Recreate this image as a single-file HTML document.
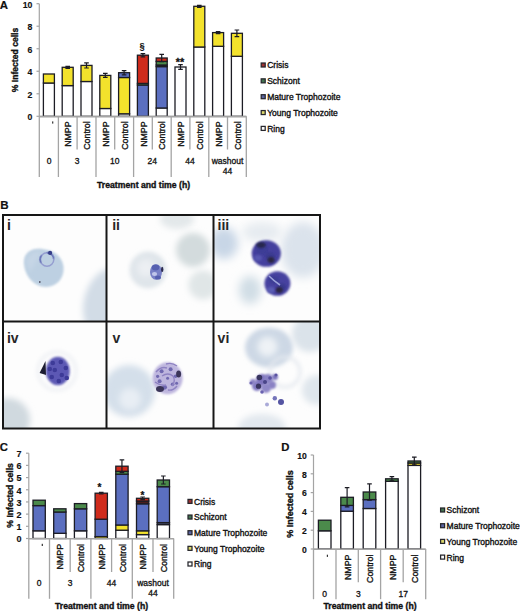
<!DOCTYPE html><html><head><meta charset="utf-8"><style>html,body{margin:0;padding:0;background:#fff;overflow:hidden;}svg{display:block}</style></head><body>
<svg width="520" height="611" viewBox="0 0 520 611" font-family='"Liberation Sans", sans-serif'>
<rect width="520" height="611" fill="#fff"/>
<text x="-0.3" y="8.6" text-anchor="start" font-size="11.4" font-weight="bold" fill="#111" stroke="#111" stroke-width="0.2">A</text>
<line x1="39.3" y1="3.7" x2="39.3" y2="116.3" stroke="#a4a4a4" stroke-width="1.2"/>
<line x1="39.3" y1="116.3" x2="246.3" y2="116.3" stroke="#a4a4a4" stroke-width="1.2"/>
<line x1="36.5" y1="3.7" x2="39.3" y2="3.7" stroke="#a4a4a4" stroke-width="1.2"/>
<text x="32.4" y="7.5146" text-anchor="end" font-size="8.7" font-weight="bold" fill="#111" stroke="#111" stroke-width="0.15">10</text>
<line x1="36.5" y1="26.22" x2="39.3" y2="26.22" stroke="#a4a4a4" stroke-width="1.2"/>
<text x="32.4" y="30.034599999999998" text-anchor="end" font-size="8.7" font-weight="bold" fill="#111" stroke="#111" stroke-width="0.15">8</text>
<line x1="36.5" y1="48.74" x2="39.3" y2="48.74" stroke="#a4a4a4" stroke-width="1.2"/>
<text x="32.4" y="52.55460000000001" text-anchor="end" font-size="8.7" font-weight="bold" fill="#111" stroke="#111" stroke-width="0.15">6</text>
<line x1="36.5" y1="71.25999999999999" x2="39.3" y2="71.25999999999999" stroke="#a4a4a4" stroke-width="1.2"/>
<text x="32.4" y="75.07459999999999" text-anchor="end" font-size="8.7" font-weight="bold" fill="#111" stroke="#111" stroke-width="0.15">4</text>
<line x1="36.5" y1="93.78" x2="39.3" y2="93.78" stroke="#a4a4a4" stroke-width="1.2"/>
<text x="32.4" y="97.5946" text-anchor="end" font-size="8.7" font-weight="bold" fill="#111" stroke="#111" stroke-width="0.15">2</text>
<line x1="36.5" y1="116.3" x2="39.3" y2="116.3" stroke="#a4a4a4" stroke-width="1.2"/>
<text x="32.4" y="120.1146" text-anchor="end" font-size="8.7" font-weight="bold" fill="#111" stroke="#111" stroke-width="0.15">0</text>
<text transform="translate(18.0,60.0) rotate(-90)" text-anchor="middle" font-size="8.6" font-weight="bold" fill="#111" stroke="#111" stroke-width="0.35">% Infected cells</text>
<rect x="43.4" y="83" width="11.0" height="33.3" fill="#ffffff" stroke="#1c1c24" stroke-width="1.3"/>
<rect x="43.4" y="74" width="11.0" height="9" fill="#f3e22c" stroke="#1c1c24" stroke-width="1.3"/>
<rect x="62.2" y="85.6" width="11.0" height="30.700000000000003" fill="#ffffff" stroke="#1c1c24" stroke-width="1.3"/>
<rect x="62.2" y="67.3" width="11.0" height="18.299999999999997" fill="#f3e22c" stroke="#1c1c24" stroke-width="1.3"/>
<path d="M67.7 66.3 V68.3 M65.4 66.3 H70.0 M65.4 68.3 H70.0" stroke="#1c1c24" stroke-width="1.2" fill="none"/>
<rect x="81.0" y="81.5" width="11.0" height="34.8" fill="#ffffff" stroke="#1c1c24" stroke-width="1.3"/>
<rect x="81.0" y="65.4" width="11.0" height="16.099999999999994" fill="#f3e22c" stroke="#1c1c24" stroke-width="1.3"/>
<path d="M86.5 62.8 V68.00000000000001 M84.2 62.8 H88.8 M84.2 68.00000000000001 H88.8" stroke="#1c1c24" stroke-width="1.2" fill="none"/>
<rect x="99.80000000000001" y="108.5" width="11.0" height="7.799999999999997" fill="#ffffff" stroke="#1c1c24" stroke-width="1.3"/>
<rect x="99.80000000000001" y="75.4" width="11.0" height="33.099999999999994" fill="#f3e22c" stroke="#1c1c24" stroke-width="1.3"/>
<path d="M105.30000000000001 73.4 V77.4 M103.00000000000001 73.4 H107.60000000000001 M103.00000000000001 77.4 H107.60000000000001" stroke="#1c1c24" stroke-width="1.2" fill="none"/>
<rect x="118.6" y="113.8" width="11.0" height="2.5" fill="#ffffff" stroke="#1c1c24" stroke-width="1.3"/>
<rect x="118.6" y="77.5" width="11.0" height="36.3" fill="#f3e22c" stroke="#1c1c24" stroke-width="1.3"/>
<rect x="118.6" y="72.7" width="11.0" height="4.799999999999997" fill="#5b6fc0" stroke="#1c1c24" stroke-width="1.3"/>
<path d="M124.1 70.6 V74.80000000000001 M121.8 70.6 H126.39999999999999 M121.8 74.80000000000001 H126.39999999999999" stroke="#1c1c24" stroke-width="1.2" fill="none"/>
<rect x="137.4" y="85" width="11.0" height="31.299999999999997" fill="#5b6fc0" stroke="#1c1c24" stroke-width="1.3"/>
<rect x="137.4" y="83.4" width="11.0" height="1.5999999999999943" fill="#4b8a4b" stroke="#1c1c24" stroke-width="1.3"/>
<rect x="137.4" y="55.2" width="11.0" height="28.200000000000003" fill="#cf2b1c" stroke="#1c1c24" stroke-width="1.3"/>
<path d="M142.9 53.6 V56.800000000000004 M140.6 53.6 H145.20000000000002 M140.6 56.800000000000004 H145.20000000000002" stroke="#1c1c24" stroke-width="1.2" fill="none"/>
<rect x="156.20000000000002" y="108" width="11.0" height="8.299999999999997" fill="#ffffff" stroke="#1c1c24" stroke-width="1.3"/>
<rect x="156.20000000000002" y="66.6" width="11.0" height="41.400000000000006" fill="#5b6fc0" stroke="#1c1c24" stroke-width="1.3"/>
<rect x="156.20000000000002" y="65.0" width="11.0" height="1.5999999999999943" fill="#2a2a2a" stroke="#1c1c24" stroke-width="1.3"/>
<rect x="156.20000000000002" y="61.4" width="11.0" height="3.6000000000000014" fill="#4b8a4b" stroke="#1c1c24" stroke-width="1.3"/>
<rect x="156.20000000000002" y="58" width="11.0" height="3.3999999999999986" fill="#cf2b1c" stroke="#1c1c24" stroke-width="1.3"/>
<path d="M161.70000000000002 54.4 V61.6 M159.4 54.4 H164.00000000000003 M159.4 61.6 H164.00000000000003" stroke="#1c1c24" stroke-width="1.2" fill="none"/>
<rect x="175.0" y="67" width="11.0" height="49.3" fill="#ffffff" stroke="#1c1c24" stroke-width="1.3"/>
<path d="M180.5 64.6 V69.4 M178.2 64.6 H182.8 M178.2 69.4 H182.8" stroke="#1c1c24" stroke-width="1.2" fill="none"/>
<rect x="193.8" y="47" width="11.0" height="69.3" fill="#ffffff" stroke="#1c1c24" stroke-width="1.3"/>
<rect x="193.8" y="6.3" width="11.0" height="40.7" fill="#f3e22c" stroke="#1c1c24" stroke-width="1.3"/>
<path d="M199.3 5.3 V7.3 M197.0 5.3 H201.60000000000002 M197.0 7.3 H201.60000000000002" stroke="#1c1c24" stroke-width="1.2" fill="none"/>
<rect x="212.60000000000002" y="46.3" width="11.0" height="70.0" fill="#ffffff" stroke="#1c1c24" stroke-width="1.3"/>
<rect x="212.60000000000002" y="32.6" width="11.0" height="13.699999999999996" fill="#f3e22c" stroke="#1c1c24" stroke-width="1.3"/>
<path d="M218.10000000000002 31.6 V33.6 M215.8 31.6 H220.40000000000003 M215.8 33.6 H220.40000000000003" stroke="#1c1c24" stroke-width="1.2" fill="none"/>
<rect x="231.4" y="56.3" width="11.0" height="60.0" fill="#ffffff" stroke="#1c1c24" stroke-width="1.3"/>
<rect x="231.4" y="33.3" width="11.0" height="23.0" fill="#f3e22c" stroke="#1c1c24" stroke-width="1.3"/>
<path d="M236.9 30.0 V36.599999999999994 M234.6 30.0 H239.20000000000002 M234.6 36.599999999999994 H239.20000000000002" stroke="#1c1c24" stroke-width="1.2" fill="none"/>
<line x1="39.3" y1="116.6" x2="246.3" y2="116.6" stroke="#a4a4a4" stroke-width="1.6"/>
<text x="142.1" y="49.4" text-anchor="middle" font-size="9.3" font-weight="bold" fill="#111" stroke="#111" stroke-width="0.1">§</text>
<text x="179.9" y="65.6" text-anchor="middle" font-size="10.8" font-weight="bold" fill="#111" stroke="#111" stroke-width="0.3">**</text>
<line x1="39.3" y1="116.3" x2="39.3" y2="177" stroke="#a4a4a4" stroke-width="1.3"/>
<line x1="58.4" y1="116.3" x2="58.4" y2="177" stroke="#a4a4a4" stroke-width="1.3"/>
<line x1="96.0" y1="116.3" x2="96.0" y2="177" stroke="#a4a4a4" stroke-width="1.3"/>
<line x1="133.6" y1="116.3" x2="133.6" y2="177" stroke="#a4a4a4" stroke-width="1.3"/>
<line x1="171.2" y1="116.3" x2="171.2" y2="177" stroke="#a4a4a4" stroke-width="1.3"/>
<line x1="208.8" y1="116.3" x2="208.8" y2="177" stroke="#a4a4a4" stroke-width="1.3"/>
<line x1="246.3" y1="116.3" x2="246.3" y2="177" stroke="#a4a4a4" stroke-width="1.3"/>
<line x1="77.1" y1="116.3" x2="77.1" y2="149.5" stroke="#a4a4a4" stroke-width="1.3"/>
<line x1="114.7" y1="116.3" x2="114.7" y2="149.5" stroke="#a4a4a4" stroke-width="1.3"/>
<line x1="152.3" y1="116.3" x2="152.3" y2="149.5" stroke="#a4a4a4" stroke-width="1.3"/>
<line x1="189.9" y1="116.3" x2="189.9" y2="149.5" stroke="#a4a4a4" stroke-width="1.3"/>
<line x1="227.5" y1="116.3" x2="227.5" y2="149.5" stroke="#a4a4a4" stroke-width="1.3"/>
<rect x="52.1" y="121.4" width="1.2" height="2.2" fill="#333"/>
<text transform="translate(71.4,121.4) rotate(-90)" text-anchor="end" font-size="8.8" font-weight="normal" fill="#111" stroke="#111" stroke-width="0.35">NMPP</text>
<text transform="translate(90.2,121.4) rotate(-90)" text-anchor="end" font-size="8.8" font-weight="normal" fill="#111" stroke="#111" stroke-width="0.35">Control</text>
<text transform="translate(109.00000000000001,121.4) rotate(-90)" text-anchor="end" font-size="8.8" font-weight="normal" fill="#111" stroke="#111" stroke-width="0.35">NMPP</text>
<text transform="translate(127.8,121.4) rotate(-90)" text-anchor="end" font-size="8.8" font-weight="normal" fill="#111" stroke="#111" stroke-width="0.35">Control</text>
<text transform="translate(146.6,121.4) rotate(-90)" text-anchor="end" font-size="8.8" font-weight="normal" fill="#111" stroke="#111" stroke-width="0.35">NMPP</text>
<text transform="translate(165.4,121.4) rotate(-90)" text-anchor="end" font-size="8.8" font-weight="normal" fill="#111" stroke="#111" stroke-width="0.35">Control</text>
<text transform="translate(184.2,121.4) rotate(-90)" text-anchor="end" font-size="8.8" font-weight="normal" fill="#111" stroke="#111" stroke-width="0.35">NMPP</text>
<text transform="translate(203.0,121.4) rotate(-90)" text-anchor="end" font-size="8.8" font-weight="normal" fill="#111" stroke="#111" stroke-width="0.35">Control</text>
<text transform="translate(221.8,121.4) rotate(-90)" text-anchor="end" font-size="8.8" font-weight="normal" fill="#111" stroke="#111" stroke-width="0.35">NMPP</text>
<text transform="translate(240.6,121.4) rotate(-90)" text-anchor="end" font-size="8.8" font-weight="normal" fill="#111" stroke="#111" stroke-width="0.35">Control</text>
<text x="49" y="163.8" text-anchor="middle" font-size="8.5" font-weight="normal" fill="#111" stroke="#111" stroke-width="0.3">0</text>
<text x="77.1" y="163.8" text-anchor="middle" font-size="8.5" font-weight="normal" fill="#111" stroke="#111" stroke-width="0.3">3</text>
<text x="114.7" y="163.8" text-anchor="middle" font-size="8.5" font-weight="normal" fill="#111" stroke="#111" stroke-width="0.3">10</text>
<text x="152.3" y="163.8" text-anchor="middle" font-size="8.5" font-weight="normal" fill="#111" stroke="#111" stroke-width="0.3">24</text>
<text x="189.9" y="163.8" text-anchor="middle" font-size="8.5" font-weight="normal" fill="#111" stroke="#111" stroke-width="0.3">44</text>
<text x="227.5" y="163.8" text-anchor="middle" font-size="8.5" font-weight="normal" fill="#111" stroke="#111" stroke-width="0.3">washout</text>
<text x="227.5" y="173.8" text-anchor="middle" font-size="8.5" font-weight="normal" fill="#111" stroke="#111" stroke-width="0.3">44</text>
<text x="143.6" y="187.5" text-anchor="middle" font-size="8.7" font-weight="bold" fill="#111" stroke="#111" stroke-width="0.35">Treatment and time (h)</text>
<rect x="261.2" y="63.0" width="4.0" height="4.0" fill="#9e3232" stroke="#26262c" stroke-width="1.25"/>
<text x="267.2" y="68.443" text-anchor="start" font-size="8.5" font-weight="normal" fill="#111" stroke="#111" stroke-width="0.35">Crisis</text>
<rect x="261.2" y="78.85" width="4.0" height="4.0" fill="#427450" stroke="#26262c" stroke-width="1.25"/>
<text x="267.2" y="84.29299999999999" text-anchor="start" font-size="8.5" font-weight="normal" fill="#111" stroke="#111" stroke-width="0.35">Schizont</text>
<rect x="261.2" y="94.7" width="4.0" height="4.0" fill="#5a64a0" stroke="#26262c" stroke-width="1.25"/>
<text x="267.2" y="100.143" text-anchor="start" font-size="8.5" font-weight="normal" fill="#111" stroke="#111" stroke-width="0.35">Mature Trophozoite</text>
<rect x="261.2" y="110.55" width="4.0" height="4.0" fill="#dcd86a" stroke="#26262c" stroke-width="1.25"/>
<text x="267.2" y="115.993" text-anchor="start" font-size="8.5" font-weight="normal" fill="#111" stroke="#111" stroke-width="0.35">Young Trophozoite</text>
<rect x="261.2" y="126.39999999999999" width="4.0" height="4.0" fill="#ffffff" stroke="#26262c" stroke-width="1.25"/>
<text x="267.2" y="131.843" text-anchor="start" font-size="8.5" font-weight="normal" fill="#111" stroke="#111" stroke-width="0.35">Ring</text>
<text x="-0.3" y="451.0" text-anchor="start" font-size="11.3" font-weight="bold" fill="#111" stroke="#111" stroke-width="0.2">C</text>
<line x1="28.8" y1="453.2" x2="28.8" y2="538.5" stroke="#a4a4a4" stroke-width="1.2"/>
<line x1="28.8" y1="538.5" x2="173.7" y2="538.5" stroke="#a4a4a4" stroke-width="1.2"/>
<line x1="26.0" y1="453.2" x2="28.8" y2="453.2" stroke="#a4a4a4" stroke-width="1.2"/>
<text x="21.6" y="457.12199999999996" text-anchor="end" font-size="9.0" font-weight="bold" fill="#111" stroke="#111" stroke-width="0.15">7</text>
<line x1="26.0" y1="465.3857142857143" x2="28.8" y2="465.3857142857143" stroke="#a4a4a4" stroke-width="1.2"/>
<text x="21.6" y="469.30771428571427" text-anchor="end" font-size="9.0" font-weight="bold" fill="#111" stroke="#111" stroke-width="0.15">6</text>
<line x1="26.0" y1="477.57142857142856" x2="28.8" y2="477.57142857142856" stroke="#a4a4a4" stroke-width="1.2"/>
<text x="21.6" y="481.4934285714285" text-anchor="end" font-size="9.0" font-weight="bold" fill="#111" stroke="#111" stroke-width="0.15">5</text>
<line x1="26.0" y1="489.75714285714287" x2="28.8" y2="489.75714285714287" stroke="#a4a4a4" stroke-width="1.2"/>
<text x="21.6" y="493.67914285714284" text-anchor="end" font-size="9.0" font-weight="bold" fill="#111" stroke="#111" stroke-width="0.15">4</text>
<line x1="26.0" y1="501.9428571428571" x2="28.8" y2="501.9428571428571" stroke="#a4a4a4" stroke-width="1.2"/>
<text x="21.6" y="505.8648571428571" text-anchor="end" font-size="9.0" font-weight="bold" fill="#111" stroke="#111" stroke-width="0.15">3</text>
<line x1="26.0" y1="514.1285714285714" x2="28.8" y2="514.1285714285714" stroke="#a4a4a4" stroke-width="1.2"/>
<text x="21.6" y="518.0505714285714" text-anchor="end" font-size="9.0" font-weight="bold" fill="#111" stroke="#111" stroke-width="0.15">2</text>
<line x1="26.0" y1="526.3142857142857" x2="28.8" y2="526.3142857142857" stroke="#a4a4a4" stroke-width="1.2"/>
<text x="21.6" y="530.2362857142857" text-anchor="end" font-size="9.0" font-weight="bold" fill="#111" stroke="#111" stroke-width="0.15">1</text>
<line x1="26.0" y1="538.5" x2="28.8" y2="538.5" stroke="#a4a4a4" stroke-width="1.2"/>
<text x="21.6" y="542.422" text-anchor="end" font-size="9.0" font-weight="bold" fill="#111" stroke="#111" stroke-width="0.15">0</text>
<text transform="translate(12.6,495.4) rotate(-90)" text-anchor="middle" font-size="8.6" font-weight="bold" fill="#111" stroke="#111" stroke-width="0.35">% Infected cells</text>
<rect x="33.0" y="530.8" width="12.3" height="7.7000000000000455" fill="#ffffff" stroke="#1c1c24" stroke-width="1.3"/>
<rect x="33.0" y="505.6" width="12.3" height="25.199999999999932" fill="#5b6fc0" stroke="#1c1c24" stroke-width="1.3"/>
<rect x="33.0" y="500.2" width="12.3" height="5.400000000000034" fill="#4b8a4b" stroke="#1c1c24" stroke-width="1.3"/>
<rect x="53.7" y="533.3" width="12.3" height="5.2000000000000455" fill="#ffffff" stroke="#1c1c24" stroke-width="1.3"/>
<rect x="53.7" y="512" width="12.3" height="21.299999999999955" fill="#5b6fc0" stroke="#1c1c24" stroke-width="1.3"/>
<rect x="53.7" y="508.8" width="12.3" height="3.1999999999999886" fill="#4b8a4b" stroke="#1c1c24" stroke-width="1.3"/>
<rect x="74.4" y="530.8" width="12.3" height="7.7000000000000455" fill="#ffffff" stroke="#1c1c24" stroke-width="1.3"/>
<rect x="74.4" y="508.8" width="12.3" height="21.999999999999943" fill="#5b6fc0" stroke="#1c1c24" stroke-width="1.3"/>
<rect x="74.4" y="503.6" width="12.3" height="5.199999999999989" fill="#4b8a4b" stroke="#1c1c24" stroke-width="1.3"/>
<rect x="95.1" y="536.6" width="12.3" height="1.8999999999999773" fill="#f3e22c" stroke="#1c1c24" stroke-width="1.3"/>
<rect x="95.1" y="519.2" width="12.3" height="17.399999999999977" fill="#5b6fc0" stroke="#1c1c24" stroke-width="1.3"/>
<rect x="95.1" y="493.2" width="12.3" height="26.000000000000057" fill="#cf2b1c" stroke="#1c1c24" stroke-width="1.3"/>
<path d="M101.25 492.4 V494.0 M98.95 492.4 H103.55 M98.95 494.0 H103.55" stroke="#1c1c24" stroke-width="1.2" fill="none"/>
<rect x="115.8" y="530.2" width="12.3" height="8.299999999999955" fill="#ffffff" stroke="#1c1c24" stroke-width="1.3"/>
<rect x="115.8" y="525" width="12.3" height="5.2000000000000455" fill="#f3e22c" stroke="#1c1c24" stroke-width="1.3"/>
<rect x="115.8" y="474.2" width="12.3" height="50.80000000000001" fill="#5b6fc0" stroke="#1c1c24" stroke-width="1.3"/>
<rect x="115.8" y="471.3" width="12.3" height="2.8999999999999773" fill="#4b8a4b" stroke="#1c1c24" stroke-width="1.3"/>
<rect x="115.8" y="466.2" width="12.3" height="5.100000000000023" fill="#cf2b1c" stroke="#1c1c24" stroke-width="1.3"/>
<path d="M121.95 459.8 V472.59999999999997 M119.65 459.8 H124.25 M119.65 472.59999999999997 H124.25" stroke="#1c1c24" stroke-width="1.2" fill="none"/>
<rect x="136.5" y="534.6" width="12.3" height="3.8999999999999773" fill="#ffffff" stroke="#1c1c24" stroke-width="1.3"/>
<rect x="136.5" y="530.8" width="12.3" height="3.800000000000068" fill="#f3e22c" stroke="#1c1c24" stroke-width="1.3"/>
<rect x="136.5" y="503.8" width="12.3" height="26.999999999999943" fill="#5b6fc0" stroke="#1c1c24" stroke-width="1.3"/>
<rect x="136.5" y="501.0" width="12.3" height="2.8000000000000114" fill="#4a1c1c" stroke="#1c1c24" stroke-width="1.3"/>
<rect x="136.5" y="498.3" width="12.3" height="2.6999999999999886" fill="#cf2b1c" stroke="#1c1c24" stroke-width="1.3"/>
<path d="M142.65 497.0 V499.6 M140.35 497.0 H144.95000000000002 M140.35 499.6 H144.95000000000002" stroke="#1c1c24" stroke-width="1.2" fill="none"/>
<rect x="157.2" y="524.6" width="12.3" height="13.899999999999977" fill="#ffffff" stroke="#1c1c24" stroke-width="1.3"/>
<rect x="157.2" y="522.6" width="12.3" height="2.0" fill="#4c5878" stroke="#1c1c24" stroke-width="1.3"/>
<rect x="157.2" y="486.7" width="12.3" height="35.900000000000034" fill="#5b6fc0" stroke="#1c1c24" stroke-width="1.3"/>
<rect x="157.2" y="480" width="12.3" height="6.699999999999989" fill="#4b8a4b" stroke="#1c1c24" stroke-width="1.3"/>
<path d="M163.35 476.0 V484.0 M161.04999999999998 476.0 H165.65 M161.04999999999998 484.0 H165.65" stroke="#1c1c24" stroke-width="1.2" fill="none"/>
<line x1="28.8" y1="538.8" x2="173.7" y2="538.8" stroke="#a4a4a4" stroke-width="1.6"/>
<text x="99.5" y="491.4" text-anchor="middle" font-size="10" font-weight="bold" fill="#111" stroke="#111" stroke-width="0.25">*</text>
<text x="142.5" y="498.6" text-anchor="middle" font-size="10" font-weight="bold" fill="#111" stroke="#111" stroke-width="0.25">*</text>
<line x1="28.8" y1="538.5" x2="28.8" y2="598.8" stroke="#a4a4a4" stroke-width="1.3"/>
<line x1="49.5" y1="538.5" x2="49.5" y2="598.8" stroke="#a4a4a4" stroke-width="1.3"/>
<line x1="90.9" y1="538.5" x2="90.9" y2="598.8" stroke="#a4a4a4" stroke-width="1.3"/>
<line x1="132.3" y1="538.5" x2="132.3" y2="598.8" stroke="#a4a4a4" stroke-width="1.3"/>
<line x1="173.7" y1="538.5" x2="173.7" y2="598.8" stroke="#a4a4a4" stroke-width="1.3"/>
<line x1="70.2" y1="538.5" x2="70.2" y2="572" stroke="#a4a4a4" stroke-width="1.3"/>
<line x1="111.6" y1="538.5" x2="111.6" y2="572" stroke="#a4a4a4" stroke-width="1.3"/>
<line x1="153.0" y1="538.5" x2="153.0" y2="572" stroke="#a4a4a4" stroke-width="1.3"/>
<rect x="41.7" y="543.8" width="1.2" height="2.2" fill="#333"/>
<text transform="translate(63.45,544.0) rotate(-90)" text-anchor="end" font-size="8.8" font-weight="normal" fill="#111" stroke="#111" stroke-width="0.35">NMPP</text>
<text transform="translate(84.15,544.0) rotate(-90)" text-anchor="end" font-size="8.8" font-weight="normal" fill="#111" stroke="#111" stroke-width="0.35">Control</text>
<text transform="translate(104.85,544.0) rotate(-90)" text-anchor="end" font-size="8.8" font-weight="normal" fill="#111" stroke="#111" stroke-width="0.35">NMPP</text>
<text transform="translate(125.55,544.0) rotate(-90)" text-anchor="end" font-size="8.8" font-weight="normal" fill="#111" stroke="#111" stroke-width="0.35">Control</text>
<text transform="translate(146.25,544.0) rotate(-90)" text-anchor="end" font-size="8.8" font-weight="normal" fill="#111" stroke="#111" stroke-width="0.35">NMPP</text>
<text transform="translate(166.95,544.0) rotate(-90)" text-anchor="end" font-size="8.8" font-weight="normal" fill="#111" stroke="#111" stroke-width="0.35">Control</text>
<text x="39.2" y="586.0" text-anchor="middle" font-size="8.5" font-weight="normal" fill="#111" stroke="#111" stroke-width="0.3">0</text>
<text x="70.2" y="586.0" text-anchor="middle" font-size="8.5" font-weight="normal" fill="#111" stroke="#111" stroke-width="0.3">3</text>
<text x="111.6" y="586.0" text-anchor="middle" font-size="8.5" font-weight="normal" fill="#111" stroke="#111" stroke-width="0.3">44</text>
<text x="153.0" y="586.0" text-anchor="middle" font-size="8.5" font-weight="normal" fill="#111" stroke="#111" stroke-width="0.3">washout</text>
<text x="153.0" y="596.2" text-anchor="middle" font-size="8.5" font-weight="normal" fill="#111" stroke="#111" stroke-width="0.3">44</text>
<text x="101.6" y="608.9" text-anchor="middle" font-size="8.7" font-weight="bold" fill="#111" stroke="#111" stroke-width="0.35">Treatment and time (h)</text>
<rect x="188.0" y="499.4" width="4.0" height="4.0" fill="#9e3232" stroke="#26262c" stroke-width="1.25"/>
<text x="194.0" y="504.843" text-anchor="start" font-size="8.5" font-weight="normal" fill="#111" stroke="#111" stroke-width="0.35">Crisis</text>
<rect x="188.0" y="515.0500000000001" width="4.0" height="4.0" fill="#427450" stroke="#26262c" stroke-width="1.25"/>
<text x="194.0" y="520.493" text-anchor="start" font-size="8.5" font-weight="normal" fill="#111" stroke="#111" stroke-width="0.35">Schizont</text>
<rect x="188.0" y="530.7" width="4.0" height="4.0" fill="#5a64a0" stroke="#26262c" stroke-width="1.25"/>
<text x="194.0" y="536.143" text-anchor="start" font-size="8.5" font-weight="normal" fill="#111" stroke="#111" stroke-width="0.35">Mature Trophozoite</text>
<rect x="188.0" y="546.35" width="4.0" height="4.0" fill="#dcd86a" stroke="#26262c" stroke-width="1.25"/>
<text x="194.0" y="551.793" text-anchor="start" font-size="8.5" font-weight="normal" fill="#111" stroke="#111" stroke-width="0.35">Young Trophozoite</text>
<rect x="188.0" y="562.0" width="4.0" height="4.0" fill="#ffffff" stroke="#26262c" stroke-width="1.25"/>
<text x="194.0" y="567.443" text-anchor="start" font-size="8.5" font-weight="normal" fill="#111" stroke="#111" stroke-width="0.35">Ring</text>
<text x="281.2" y="451.3" text-anchor="start" font-size="11.3" font-weight="bold" fill="#111" stroke="#111" stroke-width="0.2">D</text>
<line x1="313.5" y1="455.0" x2="313.5" y2="549.0" stroke="#a4a4a4" stroke-width="1.2"/>
<line x1="313.5" y1="549.0" x2="425.7" y2="549.0" stroke="#a4a4a4" stroke-width="1.2"/>
<line x1="310.7" y1="455.0" x2="313.5" y2="455.0" stroke="#a4a4a4" stroke-width="1.2"/>
<text x="306.8" y="458.7788" text-anchor="end" font-size="8.6" font-weight="bold" fill="#111" stroke="#111" stroke-width="0.15">10</text>
<line x1="310.7" y1="473.8" x2="313.5" y2="473.8" stroke="#a4a4a4" stroke-width="1.2"/>
<text x="306.8" y="477.5788" text-anchor="end" font-size="8.6" font-weight="bold" fill="#111" stroke="#111" stroke-width="0.15">8</text>
<line x1="310.7" y1="492.6" x2="313.5" y2="492.6" stroke="#a4a4a4" stroke-width="1.2"/>
<text x="306.8" y="496.3788" text-anchor="end" font-size="8.6" font-weight="bold" fill="#111" stroke="#111" stroke-width="0.15">6</text>
<line x1="310.7" y1="511.4" x2="313.5" y2="511.4" stroke="#a4a4a4" stroke-width="1.2"/>
<text x="306.8" y="515.1788" text-anchor="end" font-size="8.6" font-weight="bold" fill="#111" stroke="#111" stroke-width="0.15">4</text>
<line x1="310.7" y1="530.2" x2="313.5" y2="530.2" stroke="#a4a4a4" stroke-width="1.2"/>
<text x="306.8" y="533.9788000000001" text-anchor="end" font-size="8.6" font-weight="bold" fill="#111" stroke="#111" stroke-width="0.15">2</text>
<line x1="310.7" y1="549.0" x2="313.5" y2="549.0" stroke="#a4a4a4" stroke-width="1.2"/>
<text x="306.8" y="552.7788" text-anchor="end" font-size="8.6" font-weight="bold" fill="#111" stroke="#111" stroke-width="0.15">0</text>
<text transform="translate(293.3,504.0) rotate(-90)" text-anchor="middle" font-size="9.0" font-weight="bold" fill="#111" stroke="#111" stroke-width="0.35">% Infected cells</text>
<rect x="318.4" y="530.8" width="12.6" height="18.200000000000045" fill="#ffffff" stroke="#1c1c24" stroke-width="1.3"/>
<rect x="318.4" y="520.2" width="12.6" height="10.599999999999909" fill="#4b8a4b" stroke="#1c1c24" stroke-width="1.3"/>
<rect x="340.79999999999995" y="511.2" width="12.6" height="37.80000000000001" fill="#ffffff" stroke="#1c1c24" stroke-width="1.3"/>
<rect x="340.79999999999995" y="505.4" width="12.6" height="5.800000000000011" fill="#5b6fc0" stroke="#1c1c24" stroke-width="1.3"/>
<rect x="340.79999999999995" y="497.3" width="12.6" height="8.099999999999966" fill="#4b8a4b" stroke="#1c1c24" stroke-width="1.3"/>
<path d="M347.09999999999997 487.7 V506.90000000000003 M344.79999999999995 487.7 H349.4 M344.79999999999995 506.90000000000003 H349.4" stroke="#1c1c24" stroke-width="1.2" fill="none"/>
<rect x="363.2" y="508.5" width="12.6" height="40.5" fill="#ffffff" stroke="#1c1c24" stroke-width="1.3"/>
<rect x="363.2" y="499.6" width="12.6" height="8.899999999999977" fill="#5b6fc0" stroke="#1c1c24" stroke-width="1.3"/>
<rect x="363.2" y="492" width="12.6" height="7.600000000000023" fill="#4b8a4b" stroke="#1c1c24" stroke-width="1.3"/>
<path d="M369.5 483.8 V500.2 M367.2 483.8 H371.8 M367.2 500.2 H371.8" stroke="#1c1c24" stroke-width="1.2" fill="none"/>
<rect x="385.59999999999997" y="481.3" width="12.6" height="67.69999999999999" fill="#ffffff" stroke="#1c1c24" stroke-width="1.3"/>
<rect x="385.59999999999997" y="478.8" width="12.6" height="2.5" fill="#4b8a4b" stroke="#1c1c24" stroke-width="1.3"/>
<path d="M391.9 476.7 V480.90000000000003 M389.59999999999997 476.7 H394.2 M389.59999999999997 480.90000000000003 H394.2" stroke="#1c1c24" stroke-width="1.2" fill="none"/>
<rect x="408.0" y="465.4" width="12.6" height="83.60000000000002" fill="#ffffff" stroke="#1c1c24" stroke-width="1.3"/>
<rect x="408.0" y="463" width="12.6" height="2.3999999999999773" fill="#f3e22c" stroke="#1c1c24" stroke-width="1.3"/>
<rect x="408.0" y="461" width="12.6" height="2" fill="#4b8a4b" stroke="#1c1c24" stroke-width="1.3"/>
<path d="M414.3 457.2 V464.8 M412.0 457.2 H416.6 M412.0 464.8 H416.6" stroke="#1c1c24" stroke-width="1.2" fill="none"/>
<line x1="313.5" y1="549.3" x2="425.7" y2="549.3" stroke="#a4a4a4" stroke-width="1.6"/>
<line x1="313.5" y1="549.0" x2="313.5" y2="599.2" stroke="#a4a4a4" stroke-width="1.3"/>
<line x1="336.0" y1="549.0" x2="336.0" y2="599.2" stroke="#a4a4a4" stroke-width="1.3"/>
<line x1="380.6" y1="549.0" x2="380.6" y2="599.2" stroke="#a4a4a4" stroke-width="1.3"/>
<line x1="425.7" y1="549.0" x2="425.7" y2="599.2" stroke="#a4a4a4" stroke-width="1.3"/>
<line x1="358.3" y1="549.0" x2="358.3" y2="582.3" stroke="#a4a4a4" stroke-width="1.3"/>
<line x1="403.2" y1="549.0" x2="403.2" y2="582.3" stroke="#a4a4a4" stroke-width="1.3"/>
<rect x="326.8" y="554.7" width="1.2" height="2.2" fill="#333"/>
<text transform="translate(350.7,554.6) rotate(-90)" text-anchor="end" font-size="8.8" font-weight="normal" fill="#111" stroke="#111" stroke-width="0.35">NMPP</text>
<text transform="translate(373.1,554.6) rotate(-90)" text-anchor="end" font-size="8.8" font-weight="normal" fill="#111" stroke="#111" stroke-width="0.35">Control</text>
<text transform="translate(395.5,554.6) rotate(-90)" text-anchor="end" font-size="8.8" font-weight="normal" fill="#111" stroke="#111" stroke-width="0.35">NMPP</text>
<text transform="translate(417.90000000000003,554.6) rotate(-90)" text-anchor="end" font-size="8.8" font-weight="normal" fill="#111" stroke="#111" stroke-width="0.35">Control</text>
<text x="324.6" y="596.6" text-anchor="middle" font-size="8.5" font-weight="normal" fill="#111" stroke="#111" stroke-width="0.3">0</text>
<text x="358.3" y="596.6" text-anchor="middle" font-size="8.5" font-weight="normal" fill="#111" stroke="#111" stroke-width="0.3">3</text>
<text x="403.2" y="596.6" text-anchor="middle" font-size="8.5" font-weight="normal" fill="#111" stroke="#111" stroke-width="0.3">17</text>
<text x="370.1" y="608.9" text-anchor="middle" font-size="8.7" font-weight="bold" fill="#111" stroke="#111" stroke-width="0.35">Treatment and time (h)</text>
<rect x="440.6" y="508.0" width="4.0" height="4.0" fill="#427450" stroke="#26262c" stroke-width="1.25"/>
<text x="446.6" y="513.443" text-anchor="start" font-size="8.5" font-weight="normal" fill="#111" stroke="#111" stroke-width="0.35">Schizont</text>
<rect x="440.6" y="523.7" width="4.0" height="4.0" fill="#5a64a0" stroke="#26262c" stroke-width="1.25"/>
<text x="446.6" y="529.143" text-anchor="start" font-size="8.5" font-weight="normal" fill="#111" stroke="#111" stroke-width="0.35">Mature Trophozoite</text>
<rect x="440.6" y="539.4000000000001" width="4.0" height="4.0" fill="#dcd86a" stroke="#26262c" stroke-width="1.25"/>
<text x="446.6" y="544.8430000000001" text-anchor="start" font-size="8.5" font-weight="normal" fill="#111" stroke="#111" stroke-width="0.35">Young Trophozoite</text>
<rect x="440.6" y="555.1" width="4.0" height="4.0" fill="#ffffff" stroke="#26262c" stroke-width="1.25"/>
<text x="446.6" y="560.543" text-anchor="start" font-size="8.5" font-weight="normal" fill="#111" stroke="#111" stroke-width="0.35">Ring</text>
<text x="0.2" y="208.7" text-anchor="start" font-size="11.6" font-weight="bold" fill="#111" stroke="#111" stroke-width="0.2">B</text>
<defs>
<filter id="b05" x="-50%" y="-50%" width="200%" height="200%"><feGaussianBlur stdDeviation="0.6"/></filter>
<filter id="b1" x="-50%" y="-50%" width="200%" height="200%"><feGaussianBlur stdDeviation="1"/></filter>
<filter id="b2" x="-50%" y="-50%" width="200%" height="200%"><feGaussianBlur stdDeviation="2"/></filter>
<filter id="b3" x="-50%" y="-50%" width="200%" height="200%"><feGaussianBlur stdDeviation="3"/></filter>
<filter id="b5" x="-50%" y="-50%" width="200%" height="200%"><feGaussianBlur stdDeviation="5"/></filter>
<clipPath id="c1"><rect x="3" y="215" width="103.5" height="106.5"/></clipPath>
<clipPath id="c2"><rect x="106.5" y="215" width="107" height="106.5"/></clipPath>
<clipPath id="c3"><rect x="213.5" y="215" width="107" height="106.5"/></clipPath>
<clipPath id="c4"><rect x="3" y="321.5" width="103.5" height="107"/></clipPath>
<clipPath id="c5"><rect x="106.5" y="321.5" width="107" height="107"/></clipPath>
<clipPath id="c6"><rect x="213.5" y="321.5" width="107" height="107"/></clipPath>
</defs>
<rect x="3" y="215" width="317.5" height="213.5" fill="#fdfdfd"/>
<g clip-path="url(#c1)">
<ellipse cx="106" cy="302" rx="22" ry="34" transform="rotate(15 106 302)" fill="#d2dce6" filter="url(#b3)"/>
<path d="M24 262 C24 252 32 248 42 249 C52 250 60 254 63 264 C66 276 58 287 46 287 C34 287 24 276 24 262 Z" fill="#bdd0e2" filter="url(#b1)"/>
<path d="M26 262 C28 254 34 251 42 251 C38 258 34 266 30 272 Z" fill="#c6d6e6" filter="url(#b2)"/>
<circle cx="47" cy="259.5" r="6.8" fill="none" stroke="#959ed0" stroke-width="1.5" filter="url(#b05)"/>
<circle cx="47" cy="259.5" r="6.8" fill="none" stroke="#6874b8" stroke-width="1.6" filter="url(#b05)" stroke-dasharray="8 6 10 30" transform="rotate(150 47 259.5)"/>
<circle cx="50.1" cy="252.9" r="2.1" fill="#343c88" filter="url(#b05)"/>
<circle cx="39.8" cy="282" r="0.9" fill="#556"/>
</g>
<g clip-path="url(#c2)">
<ellipse cx="177" cy="219" rx="17" ry="10" fill="#e3e8ea" filter="url(#b3)"/>
<circle cx="193" cy="250" r="17" fill="#d3dbdd" filter="url(#b3)"/>
<circle cx="203" cy="285" r="14.5" fill="#e0e6e7" filter="url(#b3)"/>
<circle cx="148" cy="270" r="18.5" fill="#dfe5ea" filter="url(#b2)"/>
<circle cx="146" cy="268" r="9" fill="#eceff3" filter="url(#b3)"/>
<ellipse cx="156" cy="272" rx="6" ry="7.8" fill="#7880c6" filter="url(#b05)"/>
<ellipse cx="155.5" cy="267.5" rx="3.8" ry="3" fill="#5660b0" filter="url(#b05)"/>
<ellipse cx="158" cy="277.5" rx="3" ry="2" fill="#5660b0" filter="url(#b05)"/>
<ellipse cx="154.5" cy="274" rx="2.6" ry="2" fill="#c0c6ea" filter="url(#b05)"/>
<ellipse cx="162.2" cy="269.4" rx="1.2" ry="2.6" fill="#2a2a50" filter="url(#b05)"/>
</g>
<g clip-path="url(#c3)">
<ellipse cx="224" cy="243" rx="14" ry="16" fill="#c8d6e6" filter="url(#b5)"/>
<ellipse cx="303" cy="250" rx="22" ry="28" fill="#dbe3ec" filter="url(#b5)"/>
<ellipse cx="250" cy="290" rx="11" ry="14" fill="#d0dde5" filter="url(#b5)"/>
<ellipse cx="262" cy="232" rx="20" ry="10" fill="#e6ebf0" filter="url(#b5)"/>
<ellipse cx="266.3" cy="253.5" rx="14.6" ry="13.3" fill="#45409e" filter="url(#b1)"/>
<ellipse cx="277.4" cy="283.5" rx="13" ry="12.3" fill="#4642a0" filter="url(#b1)"/>
<ellipse cx="262" cy="250" rx="6" ry="5" fill="#3c3c96" filter="url(#b1)"/>
<ellipse cx="270" cy="256" rx="5" ry="4" fill="#3a3a90" filter="url(#b1)"/>
<ellipse cx="258" cy="258" rx="4" ry="3" fill="#5656b0" filter="url(#b1)"/>
<ellipse cx="274" cy="280" rx="5" ry="4" fill="#3c3e94" filter="url(#b1)"/>
<ellipse cx="282" cy="287" rx="4" ry="4" fill="#3a3a90" filter="url(#b1)"/>
<ellipse cx="271" cy="290" rx="4" ry="3" fill="#5a5cb4" filter="url(#b1)"/>
<ellipse cx="261" cy="245" rx="5" ry="3" fill="#28284e" filter="url(#b1)"/>
<ellipse cx="271" cy="260" rx="3.5" ry="3" fill="#2c2840" filter="url(#b1)"/>
<ellipse cx="279.3" cy="290" rx="3.5" ry="3" fill="#2c2840" filter="url(#b1)"/>
<path d="M269 276 Q274 281 280 285" stroke="#9ca2da" stroke-width="1.6" fill="none" filter="url(#b05)"/>
</g>
<g clip-path="url(#c4)">
<circle cx="8" cy="420" r="22" fill="#d0d9df" filter="url(#b3)"/>
<circle cx="57" cy="371" r="19" fill="none" stroke="#e6e9ef" stroke-width="2" filter="url(#b2)"/>
<ellipse cx="57.8" cy="371" rx="12" ry="14.3" fill="#5c58b4" filter="url(#b1)"/>
<circle cx="52.8" cy="363" r="2.3" fill="#3e3a98" filter="url(#b05)"/>
<circle cx="60.8" cy="362" r="2.3" fill="#3e3a98" filter="url(#b05)"/>
<circle cx="65.8" cy="368" r="2.3" fill="#3e3a98" filter="url(#b05)"/>
<circle cx="54.8" cy="370" r="2.3" fill="#3e3a98" filter="url(#b05)"/>
<circle cx="61.8" cy="375" r="2.3" fill="#3e3a98" filter="url(#b05)"/>
<circle cx="51.8" cy="377" r="2.3" fill="#3e3a98" filter="url(#b05)"/>
<circle cx="58.8" cy="381" r="2.3" fill="#3e3a98" filter="url(#b05)"/>
<circle cx="66.8" cy="378" r="2.3" fill="#3e3a98" filter="url(#b05)"/>
<circle cx="49.8" cy="369" r="2.3" fill="#3e3a98" filter="url(#b05)"/>
<path d="M45.5 361 L39.6 373 L46 375 Z" fill="#1e1e30" filter="url(#b05)"/>
</g>
<g clip-path="url(#c5)">
<circle cx="129" cy="391" r="26" fill="#d4dfea" filter="url(#b3)"/>
<circle cx="130" cy="399" r="11" fill="#e8eef4" filter="url(#b3)"/>
<ellipse cx="167.6" cy="378.3" rx="15" ry="16" fill="#beb6de" filter="url(#b1)"/>
<circle cx="161.6" cy="371.3" r="2" fill="#7068b0" filter="url(#b05)"/>
<circle cx="170.6" cy="369.3" r="2" fill="#7068b0" filter="url(#b05)"/>
<circle cx="175.6" cy="376.3" r="1.8" fill="#7068b0" filter="url(#b05)"/>
<circle cx="159.6" cy="381.3" r="2" fill="#7068b0" filter="url(#b05)"/>
<circle cx="164.6" cy="387.3" r="2.4" fill="#7068b0" filter="url(#b05)"/>
<circle cx="172.6" cy="384.3" r="1.8" fill="#7068b0" filter="url(#b05)"/>
<circle cx="167.6" cy="378.3" r="1.5" fill="#7068b0" filter="url(#b05)"/>
<circle cx="157.6" cy="376.3" r="1.6" fill="#7068b0" filter="url(#b05)"/>
<circle cx="176.6" cy="383.3" r="1.5" fill="#7068b0" filter="url(#b05)"/>
<path d="M156 372 Q161 366 167 368 M162 376 Q168 372 173 376 Q176 381 172 386 M155 382 Q160 386 166 385 M168 390 Q173 391 177 386 M166 364 Q172 362 177 366" stroke="#8e82c2" stroke-width="1.4" fill="none" filter="url(#b05)"/>
<ellipse cx="160" cy="389" rx="4" ry="3" fill="#3a3458" filter="url(#b05)"/>
<ellipse cx="178.6" cy="374" rx="2.5" ry="3.5" fill="#3a3458" filter="url(#b05)"/>
</g>
<g clip-path="url(#c6)">
<ellipse cx="269" cy="347.6" rx="24" ry="20" fill="#cdd8e5" filter="url(#b2)"/>
<circle cx="267.5" cy="346.7" r="10" fill="#eef2f6" filter="url(#b3)"/>
<circle cx="310" cy="334" r="18" fill="#dbe3ea" filter="url(#b3)"/>
<circle cx="317" cy="390" r="15" fill="#dfe6ec" filter="url(#b3)"/>
<circle cx="285" cy="372" r="15" fill="none" stroke="#e5e9ef" stroke-width="3" filter="url(#b2)"/>
<ellipse cx="262" cy="428" rx="24" ry="14" fill="#e2e8ee" filter="url(#b3)"/>
<circle cx="262" cy="380" r="6" fill="#7a70ba" filter="url(#b1)"/>
<circle cx="268" cy="379" r="5" fill="#8a82c4" filter="url(#b1)"/>
<circle cx="257" cy="386" r="5" fill="#8078c0" filter="url(#b1)"/>
<circle cx="266" cy="388" r="5" fill="#9088c8" filter="url(#b1)"/>
<circle cx="272" cy="385" r="4" fill="#8a82c4" filter="url(#b1)"/>
<circle cx="253" cy="382" r="3" fill="#8a82c4" filter="url(#b1)"/>
<circle cx="275" cy="377" r="3" fill="#7a72bc" filter="url(#b1)"/>
<circle cx="259.4" cy="377.5" r="2.8" fill="#38345e" filter="url(#b05)"/>
<circle cx="258.5" cy="386.2" r="2.6" fill="#38345e" filter="url(#b05)"/>
<circle cx="265" cy="382" r="2" fill="#4a4488" filter="url(#b05)"/>
<circle cx="270" cy="378" r="1.8" fill="#5a52a0" filter="url(#b05)"/>
<circle cx="262" cy="392" r="1.8" fill="#6a62b0" filter="url(#b05)"/>
<circle cx="276" cy="375" r="1.6" fill="#5a52a0" filter="url(#b05)"/>
<circle cx="251" cy="383" r="1.6" fill="#6a62b0" filter="url(#b05)"/>
<circle cx="281" cy="402" r="3" fill="#5454a2" filter="url(#b05)"/>
<circle cx="274.8" cy="398.2" r="2.2" fill="#7474ba" filter="url(#b05)"/>
<circle cx="267" cy="404.4" r="2" fill="#aaaad8" filter="url(#b05)"/>
<path d="M263 397 L263 407" stroke="#b0b0d8" stroke-width="1" filter="url(#b05)"/>
</g>
<g stroke="#161616" stroke-width="2" fill="none">
<rect x="3" y="215" width="317" height="213.5"/>
<line x1="106.5" y1="215" x2="106.5" y2="428.5"/>
<line x1="213.5" y1="215" x2="213.5" y2="428.5"/>
<line x1="3" y1="321.5" x2="320" y2="321.5"/>
</g>
<text x="6.9" y="229.6" text-anchor="start" font-size="14" font-weight="bold" fill="#262626">i</text>
<text x="112.2" y="229.6" text-anchor="start" font-size="14" font-weight="bold" fill="#262626">ii</text>
<text x="217.6" y="229.6" text-anchor="start" font-size="14" font-weight="bold" fill="#262626">iii</text>
<text x="6.9" y="342.8" text-anchor="start" font-size="14" font-weight="bold" fill="#262626">iv</text>
<text x="112.6" y="342.8" text-anchor="start" font-size="14" font-weight="bold" fill="#262626">v</text>
<text x="217.6" y="342.8" text-anchor="start" font-size="14" font-weight="bold" fill="#262626">vi</text>
</svg></body></html>
